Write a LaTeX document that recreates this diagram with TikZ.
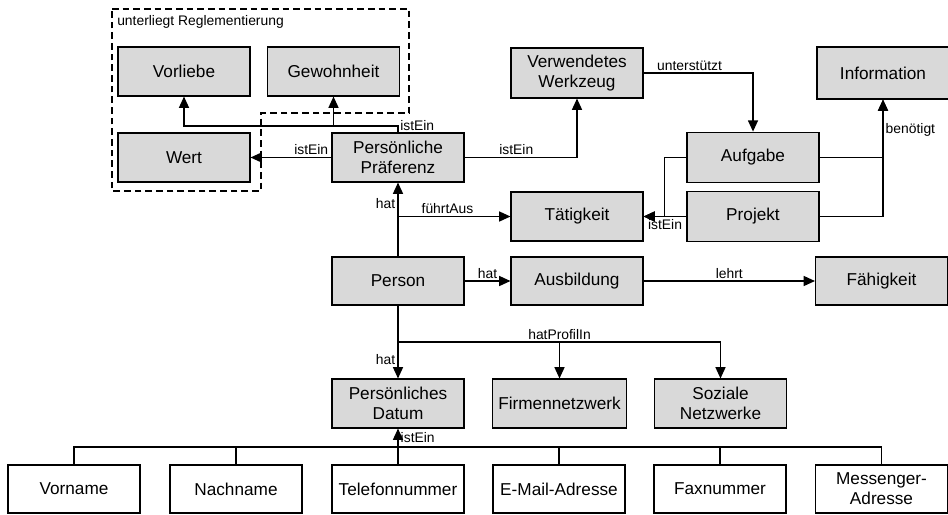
\documentclass[tikz,border=0pt]{standalone}
\usepackage{fontspec}
\setmainfont{Liberation Sans}
\usetikzlibrary{arrows.meta}

\begin{document}
\begin{tikzpicture}[x=0.75pt, y=-0.75pt,
    box/.style={draw, fill=black!15, line width=0.8pt, minimum width=99pt,
      minimum height=36.75pt, align=center, inner sep=1pt,
      font=\fontsize{12.9}{14.8}\selectfont},
    leaf/.style={box, fill=white},
    lbl/.style={font=\fontsize{10.4}{12}\selectfont, inner sep=1.5pt},
    rel/.style={line width=1.1pt, -{Triangle[length=8.5pt, width=7.5pt]}},
    link/.style={line width=0.9pt}]
    \useasboundingbox (0,0) rectangle (948,514);

    % Reglementierung (dashed area)
    \draw[dashed, line width=1.1pt, dash pattern=on 5pt off 3pt]
      (112,9) -- (409,9) -- (409,113) -- (261,113) -- (261,191) -- (112,191) -- cycle;
    \node[lbl, anchor=west] (regl) at (115,22) {unterliegt Reglementierung};
    \node[box] (vorliebe) at (184,71.5) {Vorliebe};
    \node[box] (gewohnheit) at (333.5,71.5) {Gewohnheit};
    \node[box] (wert) at (184,157.5) {Wert};

    % upper part
    \node[box] (praef) at (398,157.5) {Persönliche\\Präferenz};
    \node[box, minimum height=37.5pt] (werkzeug) at (577,73) {Verwendetes\\Werkzeug};
    \node[box, minimum height=39pt] (information) at (883,73) {Information};
    \node[box, minimum height=38pt] (aufgabe) at (753,157.5) {Aufgabe};
    \node[box, minimum height=38pt] (projekt) at (753,216.5) {Projekt};
    \node[box] (taetigkeit) at (577,216.5) {Tätigkeit};

    % middle row
    \node[box, minimum height=36pt] (person) at (398,281) {Person};
    \node[box, minimum height=36pt] (ausbildung) at (577,281) {Ausbildung};
    \node[box, minimum height=36pt] (faehigkeit) at (881.5,281) {Fähigkeit};

    % personal data and profiles
    \node[box] (datum) at (398,403.5) {Persönliches\\Datum};
    \node[box, minimum width=101pt] (firmen) at (559.5,403.5) {Firmennetzwerk};
    \node[box] (sozial) at (720.5,403.5) {Soziale\\Netzwerke};

    % kinds of personal data
    \node[leaf, minimum height=36pt] (vorname) at (74,489) {Vorname};
    \node[leaf, minimum height=36pt] (nachname) at (236,489) {Nachname};
    \node[leaf, minimum height=36pt] (telefon) at (398,489) {Telefonnummer};
    \node[leaf, minimum height=36pt] (email) at (559,489) {E-Mail-Adresse};
    \node[leaf, minimum height=36pt] (fax) at (720,489) {Faxnummer};
    \node[leaf, minimum height=36pt] (messenger) at (881.5,489) {Messenger-\\Adresse};

    \coordinate (pturn) at (398,126);
    \coordinate (prof) at (398,342);
    \coordinate (bus) at (0,447);

    % istEin relations
    \draw[rel] (praef.north) -- (pturn) -| (vorliebe.south);
    \draw[rel] (pturn) -| (gewohnheit.south);
    \node[lbl, anchor=west] (isteinA) at (pturn) {istEin};
    \draw[rel] (praef) -- (wert) node[lbl, above, pos=0.25] {istEin};
    \draw[rel] (praef.east) -| (werkzeug.south) node[lbl, above, pos=0.23] {istEin};
    \draw[rel] (aufgabe.west) -- ++(-22,0) |- (taetigkeit.east);
    \draw[rel] (projekt) -- (taetigkeit) node[lbl, below, pos=0.5] {istEin};

    % other relations
    \draw[rel] (werkzeug.east) -| (aufgabe.north) node[lbl, above, pos=0.21] {unterstützt};
    \draw[rel] (aufgabe.east) -| (information.south) node[lbl, right, pos=0.74] {benötigt};
    \draw[rel] (projekt.east) -| (information.south);
    \draw[rel] (person) -- (praef) node[lbl, left, pos=0.72] {hat};
    \draw[rel] (person.north |- taetigkeit) -- (taetigkeit) node[lbl, above, pos=0.44] {führtAus};
    \draw[rel] (person) -- (ausbildung) node[lbl, above, midway] {hat};
    \draw[rel] (ausbildung) -- (faehigkeit) node[lbl, above, midway] {lehrt};
    \draw[rel] (person) -- (datum) node[lbl, left, pos=0.74] {hat};
    \draw[rel] (prof) -| (firmen.north) node[lbl, above, pos=0.5] {hatProfilIn};
    \draw[rel] (prof) -| (sozial.north);

    % tree below Persoenliches Datum
    \draw[link] (vorname.north) |- (bus -| messenger.north) -- (messenger.north);
    \foreach \n in {nachname, email, fax}
      \draw[link] (\n.north) -- (\n.north |- bus);
    \draw[rel] (telefon) -- (datum) node[lbl, right, pos=0.76] {istEin};
\end{tikzpicture}
\end{document}
